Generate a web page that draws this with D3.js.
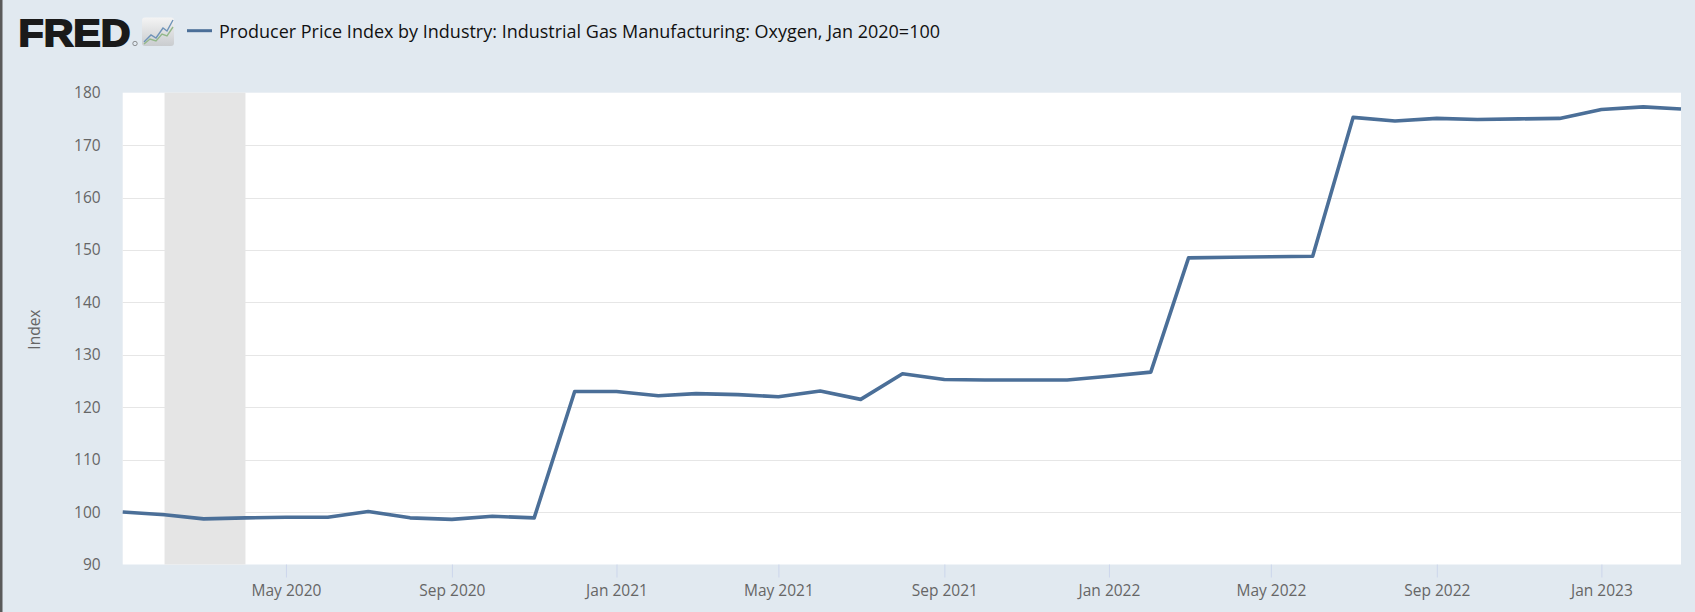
<!DOCTYPE html>
<html>
<head>
<meta charset="utf-8">
<script src="https://cdn.jsdelivr.net/npm/d3@7"></script>
<style>
  html, body { margin: 0; padding: 0; overflow: hidden; background: #e1e9f0; }
  svg { display: block; }
</style>
</head>
<body>
<div id="chart"></div>
<script>
// monthly observations, Jan 2020 .. Mar 2023
var months = [
  "2020-01","2020-02","2020-03","2020-04","2020-05","2020-06","2020-07","2020-08","2020-09","2020-10","2020-11","2020-12",
  "2021-01","2021-02","2021-03","2021-04","2021-05","2021-06","2021-07","2021-08","2021-09","2021-10","2021-11","2021-12",
  "2022-01","2022-02","2022-03","2022-04","2022-05","2022-06","2022-07","2022-08","2022-09","2022-10","2022-11","2022-12",
  "2023-01","2023-02","2023-03"
];
var oxygenIndex = [
  100.0, 99.5, 98.7, 98.9, 99.0, 99.0, 100.1, 98.9, 98.6, 99.2, 98.9, 123.0,
  123.0, 122.2, 122.6, 122.4, 122.0, 123.1, 121.5, 126.4, 125.3, 125.2, 125.2, 125.2,
  125.9, 126.7, 148.5, 148.6, 148.7, 148.8, 175.3, 174.6, 175.1, 174.9, 175.0, 175.1,
  176.8, 177.3, 176.9
];
var recession = ["2020-02", "2020-04"];
var xTicks = ["2020-05","2020-09","2021-01","2021-05","2021-09","2022-01","2022-05","2022-09","2023-01"];
var yTicks = [90, 100, 110, 120, 130, 140, 150, 160, 170, 180];
var seriesTitle = "Producer Price Index by Industry: Industrial Gas Manufacturing: Oxygen, Jan 2020=100";
var yTitle = "Index";

var W = 1695, H = 612;
var plot = {left: 122.7, right: 1681, top: 92.7, bottom: 564.5};
var parseMonth = d3.timeParse("%Y-%m");
var fmt = d3.timeFormat("%b %Y");

var svg = d3.select("#chart").append("svg")
    .attr("width", W).attr("height", H);

svg.append("rect").attr("width", W).attr("height", H).attr("fill", "#e1e9f0");
// dark window edge on the left
svg.append("rect").attr("x", 0).attr("y", 0).attr("width", 2.5).attr("height", H).attr("fill", "#5a5a5a");

var x = d3.scaleTime()
    .domain(d3.extent(months, parseMonth))
    .range([plot.left, plot.right]);
var y = d3.scaleLinear()
    .domain([90, 180])
    .range([plot.bottom, plot.top]);

svg.append("rect")
    .attr("x", plot.left).attr("y", plot.top)
    .attr("width", plot.right - plot.left).attr("height", plot.bottom - plot.top)
    .attr("fill", "#ffffff");

// gridlines
svg.append("g")
    .selectAll("line")
    .data(yTicks.slice(1, -1))
    .join("line")
    .attr("x1", plot.left).attr("x2", plot.right)
    .attr("y1", d => Math.round(y(d)) + 0.5).attr("y2", d => Math.round(y(d)) + 0.5)
    .attr("stroke", "#e6e6e6").attr("stroke-width", 1);

// recession shading
svg.append("rect")
    .attr("x", x(parseMonth(recession[0])))
    .attr("y", plot.top)
    .attr("width", x(parseMonth(recession[1])) - x(parseMonth(recession[0])))
    .attr("height", plot.bottom - plot.top)
    .attr("fill", "#e5e5e5");

// y axis labels
var yAxis = svg.append("g")
    .attr("transform", "translate(" + (plot.left - 22) + ",0)")
    .call(d3.axisLeft(y).tickValues(yTicks).tickSize(0).tickPadding(0));
yAxis.select(".domain").remove();
yAxis.selectAll("text")
    .attr("font-family", "'Open Sans', sans-serif")
    .attr("font-size", 15.5)
    .attr("fill", "#666666");

svg.append("text")
    .attr("transform", "translate(40," + ((plot.top + plot.bottom) / 2 + 1) + ") rotate(-90)")
    .attr("text-anchor", "middle")
    .attr("font-family", "'Open Sans', sans-serif")
    .attr("font-size", 15.5)
    .attr("fill", "#666666")
    .text(yTitle);

// x axis
var xAxis = svg.append("g")
    .attr("transform", "translate(0," + plot.bottom + ")")
    .call(d3.axisBottom(x).tickValues(xTicks.map(parseMonth)).tickFormat(fmt).tickSize(13).tickPadding(7));
xAxis.select(".domain").remove();
xAxis.selectAll(".tick line").attr("stroke", "#ccd6eb");
xAxis.selectAll("text")
    .attr("font-family", "'Open Sans', sans-serif")
    .attr("font-size", 15.5)
    .attr("fill", "#666666");

// series line
var series = months.map((m, i) => ({date: parseMonth(m), value: oxygenIndex[i]}));
svg.append("path")
    .datum(series)
    .attr("fill", "none")
    .attr("stroke", "#4b6f98")
    .attr("stroke-width", 3.6)
    .attr("stroke-linejoin", "round")
    .attr("d", d3.line().x(d => x(d.date)).y(d => y(d.value)));

// header: FRED logo
var logo = svg.append("g");
logo.append("text")
    .attr("x", 18.5).attr("y", 45.5)
    .attr("font-family", "'Liberation Sans', Arial, sans-serif")
    .attr("font-weight", "bold")
    .attr("font-size", 37.5)
    .attr("textLength", 112)
    .attr("lengthAdjust", "spacingAndGlyphs")
    .attr("fill", "#1a1a1a")
    .attr("stroke", "#1a1a1a").attr("stroke-width", 1.8)
    .text("FRED");
logo.append("circle").attr("cx", 135).attr("cy", 43.5).attr("r", 2.2)
    .attr("fill", "none").attr("stroke", "#555").attr("stroke-width", 0.6);

var grad = svg.append("defs").append("linearGradient")
    .attr("id", "icoGrad").attr("x1", 0).attr("y1", 0).attr("x2", 0).attr("y2", 1);
grad.append("stop").attr("offset", "0%").attr("stop-color", "#f4f4f4");
grad.append("stop").attr("offset", "100%").attr("stop-color", "#c9cccf");
logo.append("rect").attr("x", 142).attr("y", 17.5).attr("width", 32).attr("height", 28.5).attr("rx", 3)
    .attr("fill", "url(#icoGrad)");
logo.append("polyline")
    .attr("points", "144,42 151,35 156,38 163,28 167,31 173,20")
    .attr("fill", "none").attr("stroke", "#6f93b8").attr("stroke-width", 1.4);
logo.append("polyline")
    .attr("points", "144,44 150,39 156,41 162,34 167,36 173,27")
    .attr("fill", "none").attr("stroke", "#93b88a").attr("stroke-width", 1.4);

// legend
svg.append("line")
    .attr("x1", 187).attr("x2", 212).attr("y1", 30.7).attr("y2", 30.7)
    .attr("stroke", "#4b6f98").attr("stroke-width", 3);
svg.append("text")
    .attr("x", 219).attr("y", 37.5)
    .attr("font-family", "'Open Sans', sans-serif")
    .attr("font-size", 17.6)
    .attr("textLength", 721)
    .attr("lengthAdjust", "spacingAndGlyphs")
    .attr("fill", "#111111")
    .text(seriesTitle);
</script>
</body>
</html>
